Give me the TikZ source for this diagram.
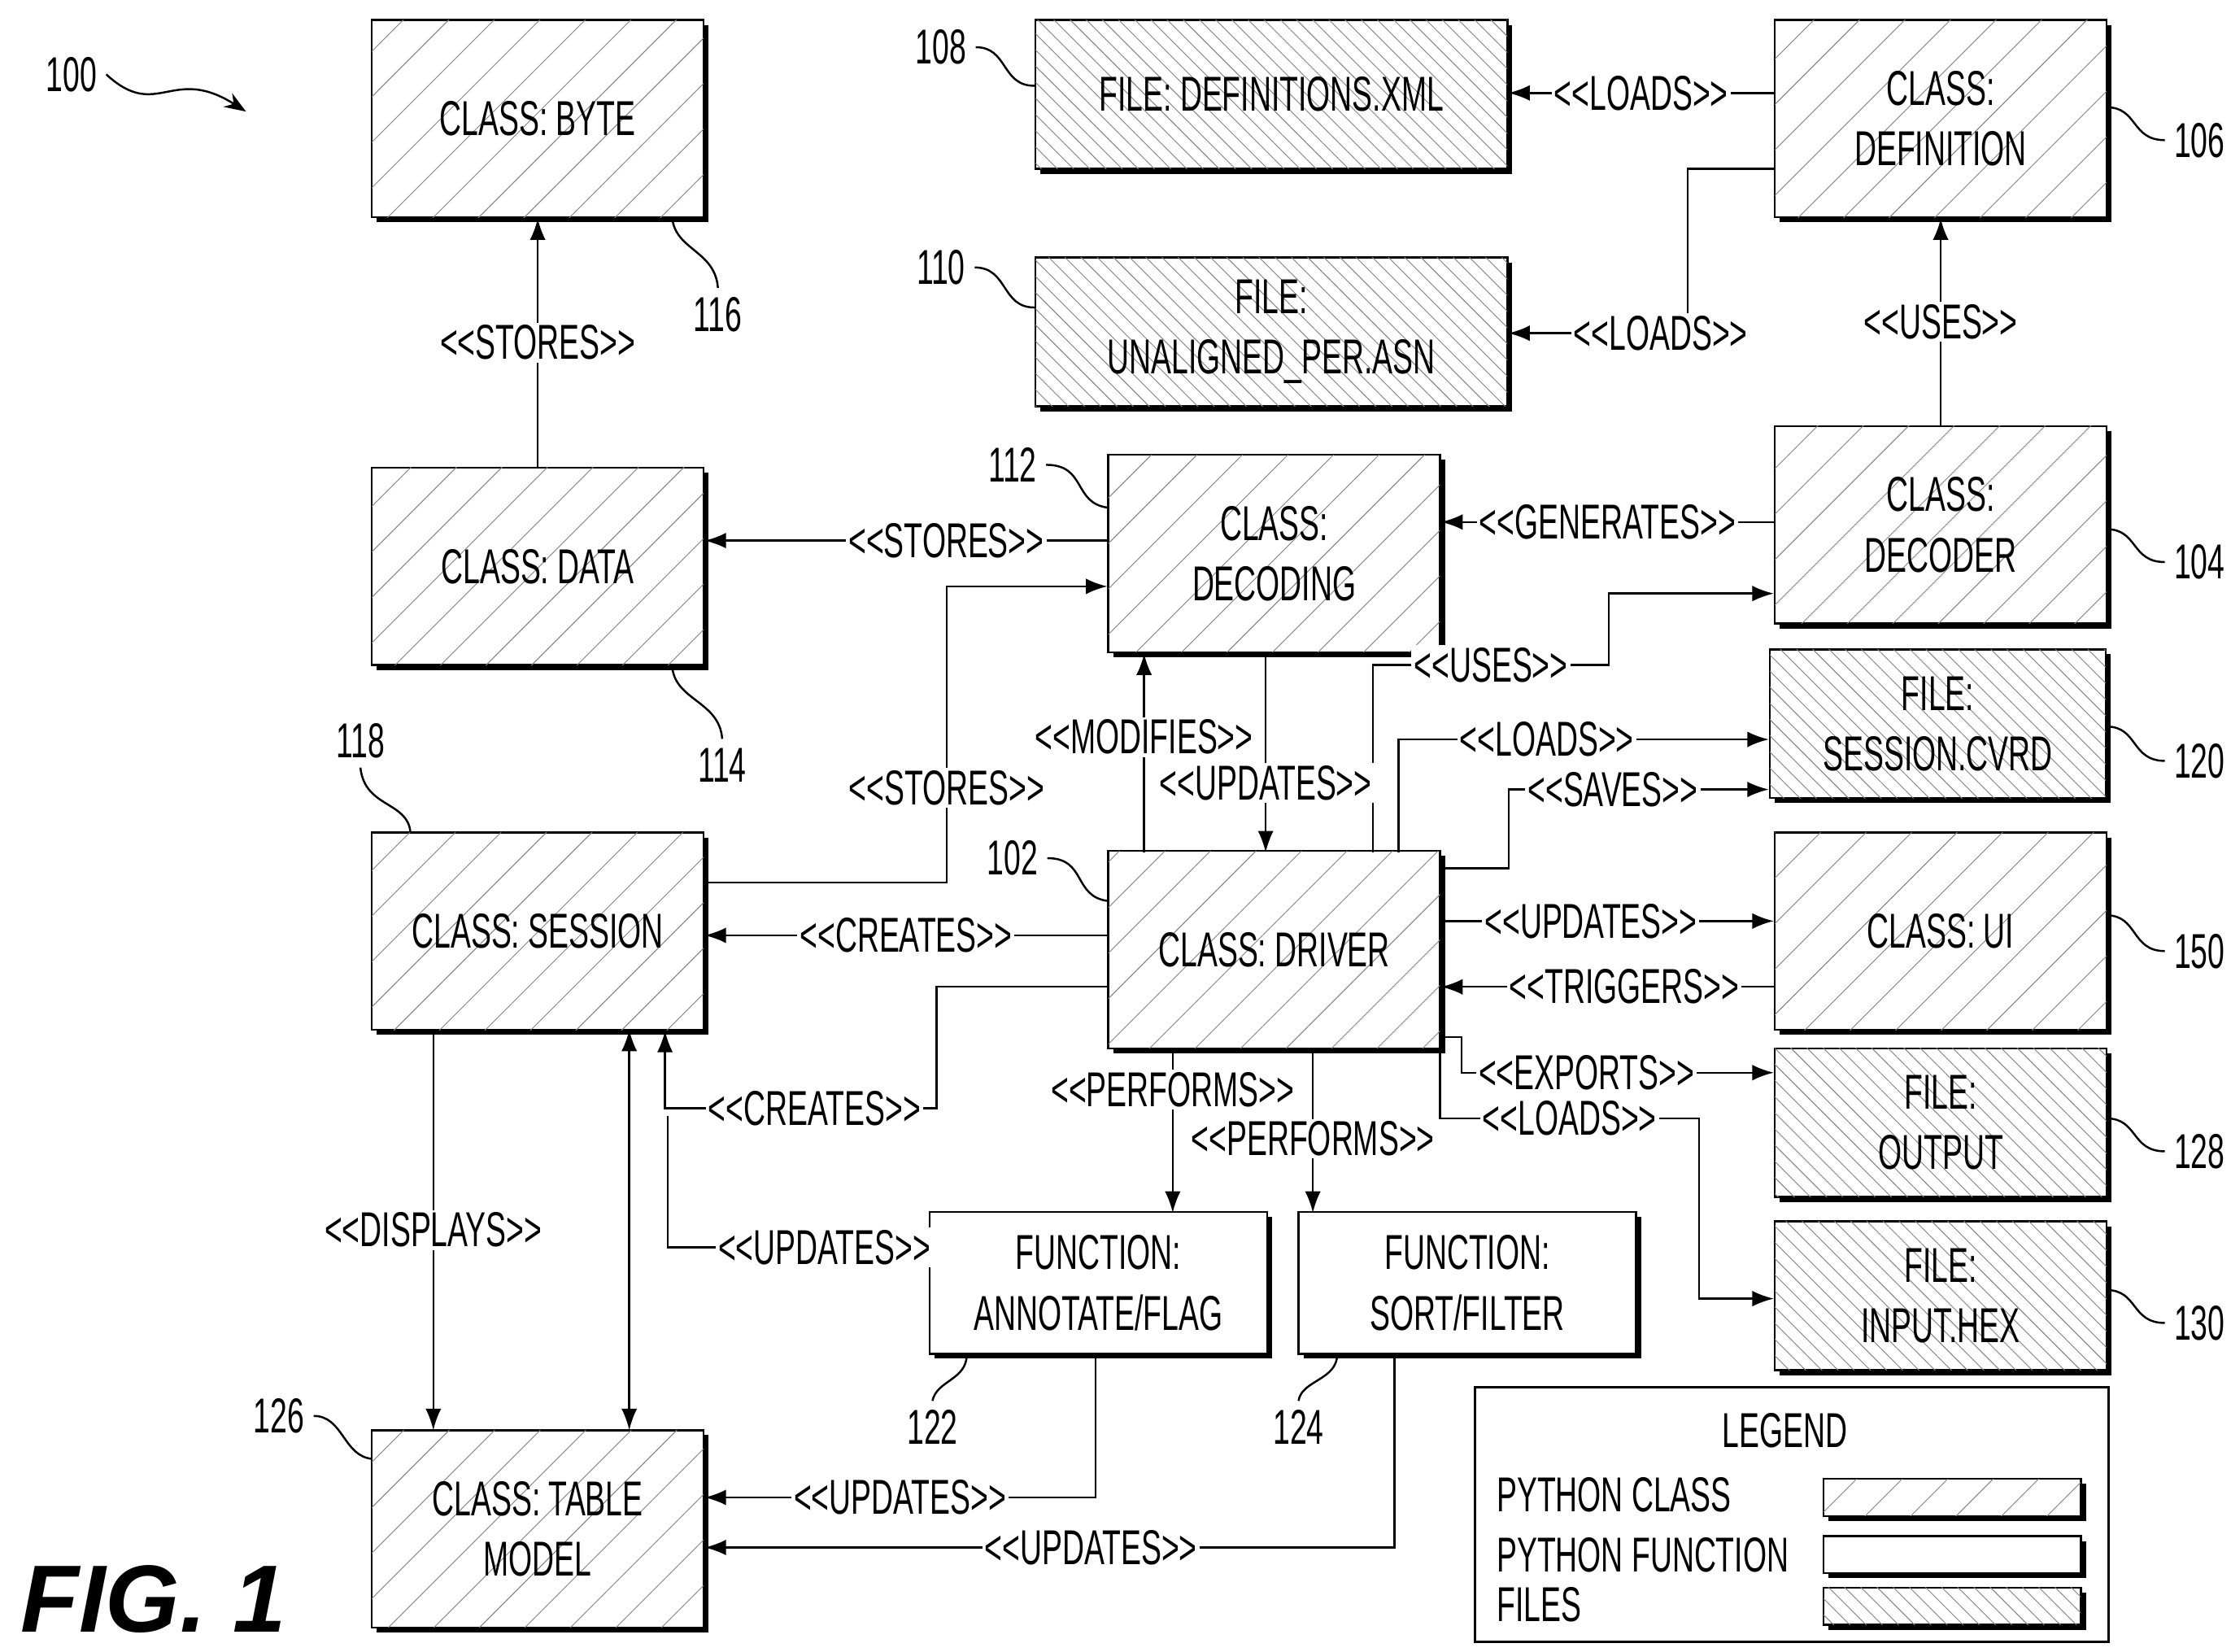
\documentclass[tikz,border=0pt]{standalone}
\usepackage{fontspec}
\setmainfont{Liberation Sans}[FakeStretch=0.62]
\newfontfamily\figfont{Liberation Sans}
\usetikzlibrary{arrows.meta, positioning, patterns.meta, shadows}
\tikzset{
  base/.style={draw, thick, align=center, minimum width=232*0.2mm, minimum height=138*0.2mm, inner sep=1pt,
    font=\fontsize{19.5}{24}\selectfont,
    drop shadow={opacity=1, fill=black, shadow xshift=0.7mm, shadow yshift=-0.7mm}},
  cls/.style={base, fill=white, postaction={pattern={Lines[angle=45, distance=4.5mm, line width=0.3pt]}, pattern color=gray}},
  fil/.style={base, minimum height=104*0.2mm,
    fill=white, postaction={pattern={Lines[angle=-45, distance=1.6mm, line width=0.3pt]}, pattern color=gray}},
  fun/.style={base, minimum width=236*0.2mm, minimum height=99*0.2mm, fill=white},
  lbl/.style={fill=white, inner sep=1pt, font=\fontsize{19.5}{24}\selectfont},
  num/.style={font=\fontsize{19.5}{24}\selectfont},
  link/.style={thick, -{Latex[length=3mm, width=2.2mm]}},
}
\begin{document}
\begin{tikzpicture}[x=0.2mm, y=-0.2mm, thick]
\useasboundingbox (0,0) rectangle (1560,1155);
% classes
\node[cls] (byte) at (376,83) {CLASS: BYTE};
\node[cls] (data) at (376,396) {CLASS: DATA};
\node[cls] (session) at (376,651) {CLASS: SESSION};
\node[cls] (table) at (376,1069) {CLASS: TABLE\\MODEL};
\node[cls] (decoding) at (891,387) {CLASS:\\DECODING};
\node[cls] (driver) at (891,664) {CLASS: DRIVER};
\node[cls] (definition) at (1357,83) {CLASS:\\DEFINITION};
\node[cls] (decoder) at (1357,367) {CLASS:\\DECODER};
\node[cls] (ui) at (1357,651) {CLASS: UI};
% files
\node[fil, minimum width=330*0.2mm] (defxml) at (889,66) {FILE: DEFINITIONS.XML};
\node[fil, minimum width=330*0.2mm] (asn) at (889,232) {FILE:\\UNALIGNED\_PER.ASN};
\node[fil, minimum width=235*0.2mm] (cvrd) at (1355,506) {FILE:\\SESSION.CVRD};
\node[fil] (output) at (1357,785) {FILE:\\OUTPUT};
\node[fil] (input) at (1357,906) {FILE:\\INPUT.HEX};
% functions
\node[fun] (annotate) at (768,897) {FUNCTION:\\ANNOTATE/FLAG};
\node[fun] (sort) at (1026,897) {FUNCTION:\\SORT/FILTER};

% connectors
\draw[link] (data) -- node[lbl] {<{}<STORES>{}>} (byte);
\draw[link] (decoding.west |- 0,378) -- node[lbl, pos=0.4] {<{}<STORES>{}>} (data.east |- 0,378);
\draw[link] (decoder.west |- 0,365) -- node[lbl] {<{}<GENERATES>{}>} (decoding.east |- 0,365);
\draw[link] (decoder) -- node[lbl] {<{}<USES>{}>} (definition);
\draw[link] (definition.west |- 0,65) -- node[lbl] {<{}<LOADS>{}>} (defxml.east |- 0,65);
\draw[link] (definition.west |- 0,118) -| (1180,233) -- node[lbl, pos=0.15] {<{}<LOADS>{}>} (asn.east |- 0,233);
\draw[link] (session.east |- 0,617) -| (662,410) node[lbl, pos=0.66] {<{}<STORES>{}>} -- (decoding.west |- 0,410);
\draw[link] (driver.west |- 0,654) -- node[lbl] {<{}<CREATES>{}>} (session.east |- 0,654);
\draw[link] (driver.west |- 0,690) -| (655,775) -- node[lbl, pos=0.45] {<{}<CREATES>{}>} (465,775) -- (session.south -| 465,0);
\draw[thick] (annotate.west |- 0,872) -- node[lbl, pos=0.4] {<{}<UPDATES>{}>} (467,872) -- (467,780);
\draw[link] (960,596) |- (1125,465) node[lbl, pos=0.75] {<{}<USES>{}>} |- (decoder.west |- 0,415);
\draw[link] (800,596) -- node[lbl, pos=0.58] {<{}<MODIFIES>{}>} (800,457);
\draw[link] (885,457) -- node[lbl, pos=0.65] {<{}<UPDATES>{}>} (885,596);
\draw[link] (978,596) |- node[lbl, pos=0.7] {<{}<LOADS>{}>} (cvrd.west |- 0,517);
\draw[link] (driver.east |- 0,607) -| (1055,552) -- node[lbl, pos=0.4] {<{}<SAVES>{}>} (cvrd.west |- 0,552);
\draw[link] (driver.east |- 0,644) -- node[lbl, pos=0.45] {<{}<UPDATES>{}>} (ui.west |- 0,644);
\draw[link] (ui.west |- 0,690) -- node[lbl, pos=0.45] {<{}<TRIGGERS>{}>} (driver.east |- 0,690);
\draw[link] (1007,725) -| (1022,750) -- node[lbl, pos=0.4] {<{}<EXPORTS>{}>} (output.west |- 0,750);
\draw[link] (1007,733) -- (1007,782) -- node[lbl] {<{}<LOADS>{}>} (1188,782) |- (input.west |- 0,908);
\draw[link] (820,733) -- node[lbl, pos=0.25] {<{}<PERFORMS>{}>} (820,848);
\draw[link] (918,733) -- node[lbl, pos=0.55] {<{}<PERFORMS>{}>} (918,848);
\draw[link] (303,720) -- node[lbl] {<{}<DISPLAYS>{}>} (303,1000);
\draw[link, {Latex[length=3mm, width=2.2mm]}-{Latex[length=3mm, width=2.2mm]}] (440,720) -- (440,1000);
\draw[link] (766,947) |- node[lbl, pos=0.75] {<{}<UPDATES>{}>} (table.east |- 0,1047);
\draw[link] (975,947) |- node[lbl, pos=0.72] {<{}<UPDATES>{}>} (table.east |- 0,1082);

% reference numerals
\node[num] (n100) at (50,52) {100};
\draw[-{Stealth[length=3mm]}] (n100.east) .. controls (110,85) and (120,45) .. (172,78);
\node[num] (n108) at (658,33) {108};
\draw (n108.east) .. controls (705,33) and (700,60) .. (defxml.west |- 0,60);
\node[num] (n110) at (658,187) {110};
\draw (n110.east) .. controls (705,187) and (700,215) .. (asn.west |- 0,215);
\node[num] (n112) at (708,325) {112};
\draw (n112.east) .. controls (760,325) and (750,352) .. (775,355);
\node[num] (n102) at (708,600) {102};
\draw (n102.east) .. controls (760,600) and (750,627) .. (775,630);
\node[num] (n106) at (1538,98) {106};
\draw (n106.west) .. controls (1490,98) and (1495,75) .. (1473,75);
\node[num] (n104) at (1538,393) {104};
\draw (n104.west) .. controls (1490,393) and (1495,370) .. (1473,370);
\node[num] (n120) at (1538,532) {120};
\draw (n120.west) .. controls (1490,532) and (1495,508) .. (1473,508);
\node[num] (n150) at (1538,665) {150};
\draw (n150.west) .. controls (1490,665) and (1495,640) .. (1473,640);
\node[num] (n128) at (1538,805) {128};
\draw (n128.west) .. controls (1490,805) and (1495,782) .. (1473,782);
\node[num] (n130) at (1538,925) {130};
\draw (n130.west) .. controls (1490,925) and (1495,902) .. (1473,902);
\node[num] (n116) at (502,220) {116};
\draw (n116.north) .. controls (500,175) and (472,175) .. (470,152);
\node[num] (n114) at (505,535) {114};
\draw (n114.north) .. controls (503,490) and (472,490) .. (470,466);
\node[num] (n118) at (252,518) {118};
\draw (n118.south) .. controls (255,565) and (285,560) .. (287,582);
\node[num] (n126) at (195,990) {126};
\draw (n126.east) .. controls (240,990) and (240,1018) .. (260,1020);
\node[num] (n122) at (652,998) {122};
\draw (n122.north) .. controls (655,965) and (676,965) .. (676,947);
\node[num] (n124) at (908,998) {124};
\draw (n124.north) .. controls (910,965) and (935,965) .. (935,947);

% legend
\node[draw, thick, minimum width=443*0.2mm, minimum height=178*0.2mm] (legend) at (1253,1059) {};
\node[num] (legtitle) at (1248,1000) {LEGEND};
\node[num, anchor=west] (lclass) at (1040,1045) {PYTHON CLASS};
\node[num, anchor=west] (lfunc) at (1040,1087) {PYTHON FUNCTION};
\node[num, anchor=west] (lfile) at (1040,1122) {FILES};
\node[cls, minimum width=180*0.2mm, minimum height=26*0.2mm] (sclass) at (1365,1047) {};
\node[fun, minimum width=180*0.2mm, minimum height=26*0.2mm] (sfunc) at (1365,1087) {};
\node[fil, minimum width=180*0.2mm, minimum height=26*0.2mm] (sfile) at (1365,1123) {};

\node[font=\figfont\fontsize{38}{42}\selectfont\bfseries\itshape, anchor=west] (fig) at (8,1118) {FIG. 1};
\end{tikzpicture}
\end{document}
